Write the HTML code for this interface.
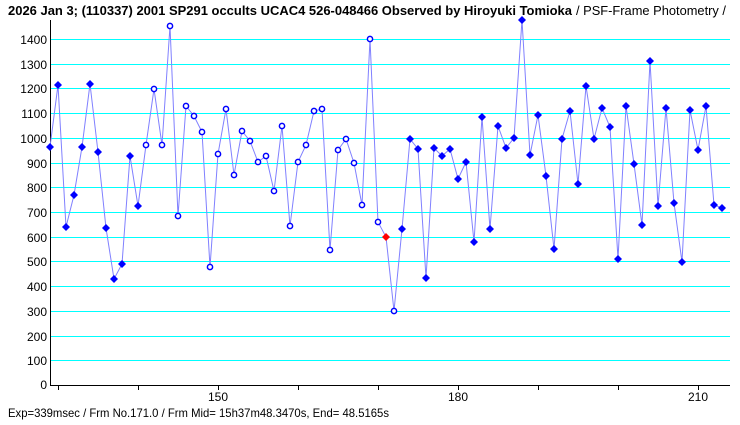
<!DOCTYPE html>
<html><head><meta charset="utf-8"><style>
body{margin:0;background:#fff;}
svg{display:block;font-family:"Liberation Sans",sans-serif;}
</style></head><body>
<svg width="740" height="425" xmlns="http://www.w3.org/2000/svg" xmlns:xlink="http://www.w3.org/1999/xlink">
<defs>
<path id="d" d="M0,-4L4,0L0,4L-4,0Z" fill="#0000ff"/>
<circle id="o" r="2.6" fill="#fff" stroke="#0000ff" stroke-width="1.5"/>
</defs>
<rect width="740" height="425" fill="#fff"/>
<text x="8" y="15" font-size="13" font-weight="bold" textLength="564" lengthAdjust="spacingAndGlyphs">2026 Jan 3; (110337) 2001 SP291 occults UCAC4 526-048466 Observed by Hiroyuki Tomioka</text>
<text x="576" y="15" font-size="13" textLength="150" lengthAdjust="spacingAndGlyphs">/ PSF-Frame Photometry /</text>
<g stroke="#00ffff" stroke-width="1">
<line x1="51" x2="730" y1="39.5" y2="39.5"/><line x1="51" x2="730" y1="64.5" y2="64.5"/><line x1="51" x2="730" y1="88.5" y2="88.5"/><line x1="51" x2="730" y1="113.5" y2="113.5"/><line x1="51" x2="730" y1="138.5" y2="138.5"/><line x1="51" x2="730" y1="163.5" y2="163.5"/><line x1="51" x2="730" y1="187.5" y2="187.5"/><line x1="51" x2="730" y1="212.5" y2="212.5"/><line x1="51" x2="730" y1="237.5" y2="237.5"/><line x1="51" x2="730" y1="261.5" y2="261.5"/><line x1="51" x2="730" y1="286.5" y2="286.5"/><line x1="51" x2="730" y1="311.5" y2="311.5"/><line x1="51" x2="730" y1="336.5" y2="336.5"/><line x1="51" x2="730" y1="360.5" y2="360.5"/>
</g>
<g stroke="#000" stroke-width="1">
<line x1="50.5" y1="20" x2="50.5" y2="385"/>
<line x1="50" y1="385.5" x2="730" y2="385.5"/>
<line x1="58.5" y1="385" x2="58.5" y2="390"/><line x1="138.5" y1="385" x2="138.5" y2="390"/><line x1="218.5" y1="385" x2="218.5" y2="390"/><line x1="298.5" y1="385" x2="298.5" y2="390"/><line x1="378.5" y1="385" x2="378.5" y2="390"/><line x1="458.5" y1="385" x2="458.5" y2="390"/><line x1="538.5" y1="385" x2="538.5" y2="390"/><line x1="618.5" y1="385" x2="618.5" y2="390"/><line x1="698.5" y1="385" x2="698.5" y2="390"/>
</g>
<g font-size="12" text-anchor="end">
<text x="47" y="44">1400</text><text x="47" y="69">1300</text><text x="47" y="93">1200</text><text x="47" y="118">1100</text><text x="47" y="143">1000</text><text x="47" y="168">900</text><text x="47" y="192">800</text><text x="47" y="217">700</text><text x="47" y="242">600</text><text x="47" y="266">500</text><text x="47" y="291">400</text><text x="47" y="316">300</text><text x="47" y="341">200</text><text x="47" y="365">100</text><text x="47" y="389">0</text>
</g>
<g font-size="12" text-anchor="middle">
<text x="218" y="401">150</text><text x="458" y="401">180</text><text x="698" y="401">210</text>
</g>
<text x="8" y="417" font-size="12" textLength="381" lengthAdjust="spacingAndGlyphs">Exp=339msec / Frm No.171.0 / Frm Mid= 15h37m48.3470s,  End= 48.5165s</text>
<polyline fill="none" stroke="#8080ff" stroke-width="1" points="50,147 58,85 66,227 74,195 82,147 90,84 98,152 106,228 114,279 122,264 130,156 138,206 146,145 154,89 162,145 170,26 178,216 186,106 194,116 202,132 210,267 218,154 226,109 234,175 242,131 250,141 258,162 266,156 274,191 282,126 290,226 298,162 306,145 314,111 322,109 330,250 338,150 346,139 354,163 362,205 370,39 378,222 386,237 394,311 402,229 410,139 418,149 426,278 434,148 442,156 450,149 458,179 466,162 474,242 482,117 490,229 498,126 506,148 514,138 522,20 530,155 538,115 546,176 554,249 562,139 570,111 578,184 586,86 594,139 602,108 610,127 618,259 626,106 634,164 642,225 650,61 658,206 666,108 674,203 682,262 690,110 698,150 706,106 714,205 722,208"/>
<g>
<use xlink:href="#d" x="50" y="147"/><use xlink:href="#d" x="58" y="85"/><use xlink:href="#d" x="66" y="227"/><use xlink:href="#d" x="74" y="195"/><use xlink:href="#d" x="82" y="147"/><use xlink:href="#d" x="90" y="84"/><use xlink:href="#d" x="98" y="152"/><use xlink:href="#d" x="106" y="228"/><use xlink:href="#d" x="114" y="279"/><use xlink:href="#d" x="122" y="264"/><use xlink:href="#d" x="130" y="156"/><use xlink:href="#d" x="138" y="206"/>
<use xlink:href="#o" x="146" y="145"/><use xlink:href="#o" x="154" y="89"/><use xlink:href="#o" x="162" y="145"/><use xlink:href="#o" x="170" y="26"/><use xlink:href="#o" x="178" y="216"/><use xlink:href="#o" x="186" y="106"/><use xlink:href="#o" x="194" y="116"/><use xlink:href="#o" x="202" y="132"/><use xlink:href="#o" x="210" y="267"/><use xlink:href="#o" x="218" y="154"/><use xlink:href="#o" x="226" y="109"/><use xlink:href="#o" x="234" y="175"/><use xlink:href="#o" x="242" y="131"/><use xlink:href="#o" x="250" y="141"/><use xlink:href="#o" x="258" y="162"/><use xlink:href="#o" x="266" y="156"/><use xlink:href="#o" x="274" y="191"/><use xlink:href="#o" x="282" y="126"/><use xlink:href="#o" x="290" y="226"/><use xlink:href="#o" x="298" y="162"/><use xlink:href="#o" x="306" y="145"/><use xlink:href="#o" x="314" y="111"/><use xlink:href="#o" x="322" y="109"/><use xlink:href="#o" x="330" y="250"/><use xlink:href="#o" x="338" y="150"/><use xlink:href="#o" x="346" y="139"/><use xlink:href="#o" x="354" y="163"/><use xlink:href="#o" x="362" y="205"/><use xlink:href="#o" x="370" y="39"/><use xlink:href="#o" x="378" y="222"/>
<path d="M386,233L390,237L386,241L382,237Z" fill="#ff0000"/>
<use xlink:href="#o" x="394" y="311"/>
<use xlink:href="#d" x="402" y="229"/><use xlink:href="#d" x="410" y="139"/><use xlink:href="#d" x="418" y="149"/><use xlink:href="#d" x="426" y="278"/><use xlink:href="#d" x="434" y="148"/><use xlink:href="#d" x="442" y="156"/><use xlink:href="#d" x="450" y="149"/><use xlink:href="#d" x="458" y="179"/><use xlink:href="#d" x="466" y="162"/><use xlink:href="#d" x="474" y="242"/><use xlink:href="#d" x="482" y="117"/><use xlink:href="#d" x="490" y="229"/><use xlink:href="#d" x="498" y="126"/><use xlink:href="#d" x="506" y="148"/><use xlink:href="#d" x="514" y="138"/><use xlink:href="#d" x="522" y="20"/><use xlink:href="#d" x="530" y="155"/><use xlink:href="#d" x="538" y="115"/><use xlink:href="#d" x="546" y="176"/><use xlink:href="#d" x="554" y="249"/><use xlink:href="#d" x="562" y="139"/><use xlink:href="#d" x="570" y="111"/><use xlink:href="#d" x="578" y="184"/><use xlink:href="#d" x="586" y="86"/><use xlink:href="#d" x="594" y="139"/><use xlink:href="#d" x="602" y="108"/><use xlink:href="#d" x="610" y="127"/><use xlink:href="#d" x="618" y="259"/><use xlink:href="#d" x="626" y="106"/><use xlink:href="#d" x="634" y="164"/><use xlink:href="#d" x="642" y="225"/><use xlink:href="#d" x="650" y="61"/><use xlink:href="#d" x="658" y="206"/><use xlink:href="#d" x="666" y="108"/><use xlink:href="#d" x="674" y="203"/><use xlink:href="#d" x="682" y="262"/><use xlink:href="#d" x="690" y="110"/><use xlink:href="#d" x="698" y="150"/><use xlink:href="#d" x="706" y="106"/><use xlink:href="#d" x="714" y="205"/><use xlink:href="#d" x="722" y="208"/>
</g>
</svg>
</body></html>
